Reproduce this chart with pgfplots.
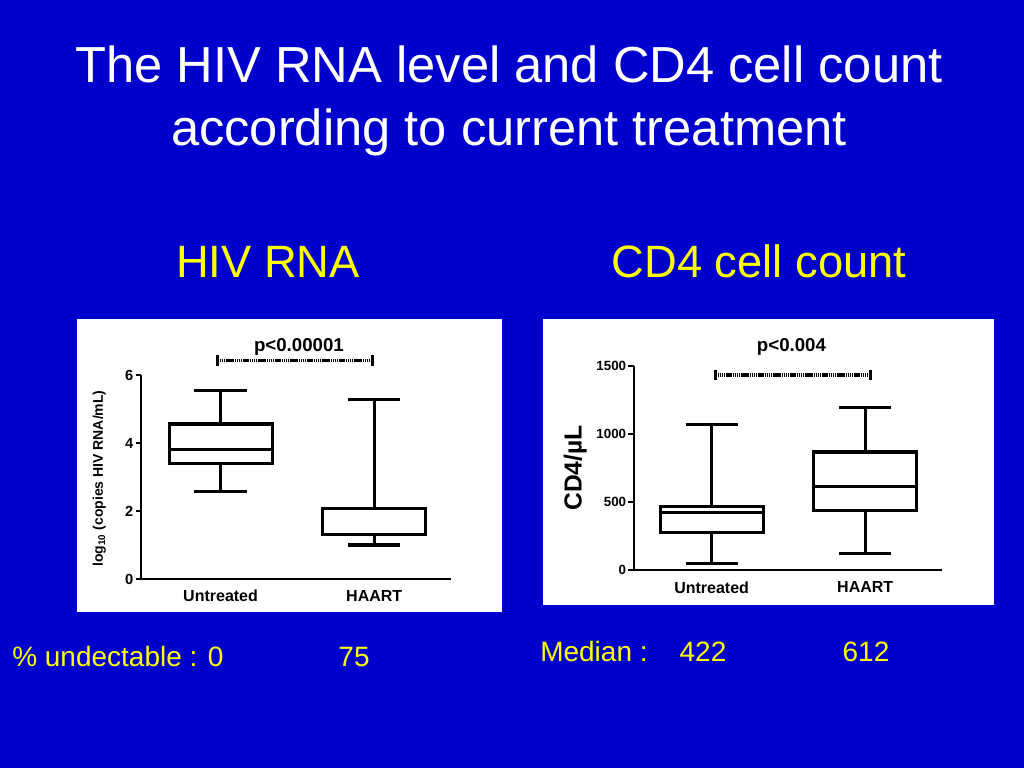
\documentclass[border=0pt]{standalone}
\usepackage{fontspec}
\setmainfont{Liberation Sans}
\usepackage{pgfplots}
\pgfplotsset{compat=1.18}
\usepgfplotslibrary{statistics}

\definecolor{slideblue}{RGB}{0,0,204}
\definecolor{slideyellow}{RGB}{255,255,0}

\pgfplotsset{
  boxpanel/.style={
    scale only axis,
    anchor=south west,
    axis lines=left,
    axis line style={-, line width=1.5pt, black},
    xtick={1,2}, xticklabels={Untreated,HAART},
    x tick style={draw=none},
    xmax=2.5, ymin=0,
    tick align=outside, major tick length=4pt,
    y tick style={line width=1.5pt, black},
    /pgf/number format/assume math mode=true,
    /pgf/number format/1000 sep={},
    scaled y ticks=false,
    xticklabel style={font=\bfseries\fontsize{12}{12}\selectfont, yshift=-1pt},
    yticklabel style={inner sep=1.5pt},
    clip=false,
    boxplot/draw direction=y,
    boxplot/box extend=0.67,
    boxplot/whisker extend=0.34,
  },
  sigbar/.style={black, line width=2.6pt, dash pattern=on 1.1pt off 0.5pt},
  sigcap/.style={black, only marks, mark=|, mark size=4pt,
    mark options={solid, line width=2pt}},
  box/.style={black, line width=2.3pt, solid},
}

\begin{document}
\begin{tikzpicture}
\begin{scope}[x=0.75pt, y=-0.75pt]
  \fill[slideblue] (0,0) rectangle (1024,768);
  \fill[white] (77,319) rectangle (502,612);
  \fill[white] (543,319) rectangle (994,605);
  \node[anchor=base, white, font=\fontsize{38}{38}\selectfont] at (509,82)
    {The HIV RNA level and CD4 cell count};
  \node[anchor=base, white, font=\fontsize{38}{38}\selectfont] at (509,145)
    {according to current treatment};
  \node[anchor=base, slideyellow, font=\fontsize{34}{34}\selectfont] at (268,277) {HIV RNA};
  \node[anchor=base, slideyellow, font=\fontsize{34}{34}\selectfont] at (759,277) {CD4 cell count};
  \node[anchor=base west, inner sep=0pt, slideyellow, font=\fontsize{21}{21}\selectfont] at (12,666) {\% undectable : 0};
  \node[anchor=base, slideyellow, font=\fontsize{21}{21}\selectfont] at (354,666) {75};
  \node[anchor=base west, inner sep=0pt, slideyellow, font=\fontsize{21}{21}\selectfont] at (540,661) {Median :};
  \node[anchor=base, slideyellow, font=\fontsize{21}{21}\selectfont] at (703,661) {422};
  \node[anchor=base, slideyellow, font=\fontsize{21}{21}\selectfont] at (866,661) {612};
\end{scope}

% HIV RNA panel
\begin{axis}[boxpanel,
  at={(105.75pt,-434.25pt)},
  width=232.5pt, height=153pt,
  xmin=0.482, ymax=6,
  ytick={0,2,4,6},
  yticklabel style={font=\bfseries\fontsize{11}{11}\selectfont},
  ylabel={log\textsubscript{10} (copies HIV RNA/mL)},
  ylabel style={at={(rel axis cs:-0.1345,0.492)}, anchor=center,
    font=\bfseries\fontsize{10.5}{10.5}\selectfont},
]
  \addplot[box, boxplot prepared={draw position=1, lower whisker=2.58,
    lower quartile=3.41, median=3.82, upper quartile=4.56, upper whisker=5.55}]
    coordinates {};
  \addplot[box, boxplot prepared={draw position=2, lower whisker=1.0,
    lower quartile=1.30, median=1.30, upper quartile=2.08, upper whisker=5.27}]
    coordinates {};
  \addplot[sigbar] coordinates {(0.98,6.43) (1.99,6.43)};
  \addplot[sigcap] coordinates {(0.98,6.43) (1.99,6.43)};
  \node[font=\bfseries\fontsize{14}{14}\selectfont] at (axis cs:1.51,6.82) {p<0.00001};
\end{axis}

% CD4 panel
\begin{axis}[boxpanel,
  at={(475.3pt,-427.7pt)},
  width=231.2pt, height=153.5pt,
  xmin=0.493, ymax=1500,
  ytick={0,500,1000,1500},
  yticklabel style={font=\bfseries\fontsize{10}{10}\selectfont},
  ylabel={CD4/µL},
  ylabel style={at={(rel axis cs:-0.190,0.5)}, anchor=center,
    font=\bfseries\fontsize{18.5}{18.5}\selectfont},
]
  \addplot[box, boxplot prepared={draw position=1, lower whisker=48,
    lower quartile=279, median=422, upper quartile=469, upper whisker=1067}]
    coordinates {};
  \addplot[box, boxplot prepared={draw position=2, lower whisker=125,
    lower quartile=440, median=612, upper quartile=867, upper whisker=1195}]
    coordinates {};
  \addplot[sigbar] coordinates {(1.025,1432) (2.035,1432)};
  \addplot[sigcap] coordinates {(1.025,1432) (2.035,1432)};
  \node[font=\bfseries\fontsize{14}{14}\selectfont] at (axis cs:1.52,1637) {p<0.004};
\end{axis}
\end{tikzpicture}
\end{document}
